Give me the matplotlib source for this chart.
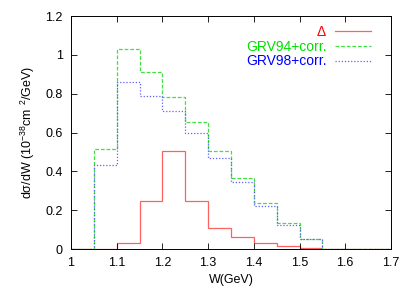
""" Delta / GRV W distribution histogram
"""
import numpy as np
from matplotlib import pyplot as plt
from matplotlib.ticker import FuncFormatter

# Bin edges in W (GeV)
edges = np.round(np.arange(1.0, 1.7001, 0.05), 3)

# Histogram heights, one per bin
delta = [0., 0.002, 0.032, 0.25, 0.507, 0.246, 0.11, 0.06, 0.029, 0.015, 0.007, 0., 0., 0.]
grv94 = [0., 0.517, 1.032, 0.912, 0.785, 0.655, 0.507, 0.366, 0.237, 0.134, 0.052, 0., 0., 0.]
grv98 = [0., 0.431, 0.861, 0.787, 0.71, 0.598, 0.467, 0.347, 0.22, 0.122, 0.05, 0., 0., 0.]

labels = [r'$\Delta$', 'GRV94+corr.', 'GRV98+corr.']
clrs = ['#ff6060', '#40e040', '#6060ff']
styles = ['-', (0, (3, 1.5)), (0, (1, 1.5))]

plt.rcParams['font.family'] = ['Liberation Sans', 'DejaVu Sans']
plt.rcParams['mathtext.fontset'] = 'custom'
plt.rcParams['mathtext.rm'] = 'Liberation Sans'
plt.rcParams['mathtext.it'] = 'Liberation Sans'

fig = plt.figure(figsize=(4.15, 2.91), dpi=100)
ax = fig.add_axes([0.171, 0.144, 0.771, 0.801])

for vals, clr, ls, lbl in zip([delta, grv94, grv98], clrs, styles, labels):
    ax.stairs(vals, edges, color=clr, ls=ls, lw=0.9, label=lbl, baseline=None)

ax.set_xlim(1.0, 1.7)
ax.set_ylim(0., 1.2)
ax.set_xticks(np.arange(1.0, 1.701, 0.1))
ax.set_yticks(np.arange(0., 1.201, 0.2))
fmt = FuncFormatter(lambda v, p: '{:g}'.format(round(v, 3)))
ax.xaxis.set_major_formatter(fmt)
ax.yaxis.set_major_formatter(fmt)
ax.tick_params(direction='in', top=True, right=True, labelsize=9, length=4,
               width=0.6, pad=6)
for sp in ax.spines.values():
    sp.set_linewidth(0.7)

ax.set_xlabel('W(GeV)', fontsize=9, labelpad=3)
ax.set_ylabel(r'd$\sigma$/dW (10$^{-38}$cm $^2$/GeV)', fontsize=9, labelpad=6)

leg = ax.legend(loc='upper right', bbox_to_anchor=(0.955, 0.985), frameon=False,
                fontsize=10, markerfirst=False, handlelength=2.6,
                handletextpad=0.6, labelspacing=0.05, borderaxespad=0.)
for txt, clr in zip(leg.get_texts(), ['red', '#00e000', '#0000ff']):
    txt.set_color(clr)

fig.savefig('out.png', dpi=100)
